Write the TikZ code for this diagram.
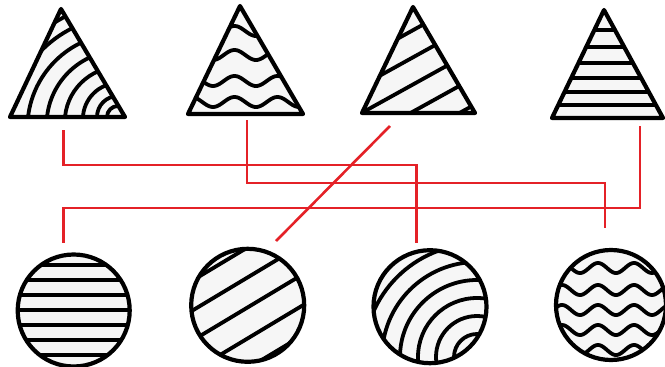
\documentclass[tikz,border=0pt]{standalone}
\definecolor{linkred}{HTML}{E42127}
\definecolor{paper}{HTML}{F6F6F6}
\begin{document}
\begin{tikzpicture}[x=1pt,y=-1pt,
  outline/.style={line width=4.2pt,line join=round},
  hatch/.style={line width=3.8pt},
  link/.style={draw=linkred,line width=2.6pt}]
\useasboundingbox (0,0) rectangle (665,367);

% ---------- triangle 1: arcs ----------
\coordinate (t1a) at (61,9); \coordinate (t1b) at (10,117); \coordinate (t1c) at (125,117);
\fill[paper] (t1a)--(t1b)--(t1c)--cycle;
\begin{scope}
  \clip (t1a)--(t1b)--(t1c)--cycle;
  \foreach \cx/\cy/\r in {118/117/11,118/117/21,119/119/36.1,120/122/55.2,121/125/74.4,122/128/94.6,124/132/116,126/136/134}
    \draw[hatch] (\cx,\cy) circle[radius=\r pt];
\end{scope}
\draw[outline] (t1a)--(t1b)--(t1c)--cycle;

% ---------- triangle 2: waves ----------
\coordinate (t2a) at (240,6); \coordinate (t2b) at (188,114); \coordinate (t2c) at (303,114);
\fill[paper] (t2a)--(t2b)--(t2c)--cycle;
\begin{scope}
  \clip (t2a)--(t2b)--(t2c)--cycle;
  \foreach \yy in {31,55,81,102}
    \draw[hatch,domain=180:310,samples=90,smooth] plot (\x,{\yy+5*cos(8.372*(\x-213))});
\end{scope}
\draw[outline] (t2a)--(t2b)--(t2c)--cycle;

% ---------- triangle 3: diagonal stripes ----------
\coordinate (t3a) at (413,7); \coordinate (t3b) at (362,113); \coordinate (t3c) at (475,113);
\fill[paper] (t3a)--(t3b)--(t3c)--cycle;
\begin{scope}
  \clip (t3a)--(t3b)--(t3c)--cycle;
  \foreach \b in {263,312,361,410,459}
    \draw[hatch] ({\b-60},146.5) -- ({\b+200},2.5);
\end{scope}
\draw[outline] (t3a)--(t3b)--(t3c)--cycle;

% ---------- triangle 4: horizontal stripes ----------
\coordinate (t4a) at (604,10); \coordinate (t4b) at (552,118); \coordinate (t4c) at (663,118);
\fill[paper] (t4a)--(t4b)--(t4c)--cycle;
\begin{scope}
  \clip (t4a)--(t4b)--(t4c)--cycle;
  \foreach \yy in {30,46.7,62.7,77.7,91.7,105} \draw[hatch] (540,\yy)--(670,\yy);
\end{scope}
\draw[outline] (t4a)--(t4b)--(t4c)--cycle;

% ---------- circle 1: horizontal stripes ----------
\coordinate (c1) at (73.7,310.5);
\fill[paper] (c1) circle[radius=56pt];
\begin{scope}
  \clip (c1) circle[radius=56pt];
  \foreach \yy in {265,280,295,310,325,340,355} \draw[hatch] (10,\yy)--(140,\yy);
\end{scope}
\draw[outline] (c1) circle[radius=56pt];

% ---------- circle 2: diagonal stripes ----------
\coordinate (c2) at (247.7,305.3);
\fill[paper] (c2) circle[radius=56.5pt];
\begin{scope}
  \clip (c2) circle[radius=56.5pt];
  \foreach \c in {246,276,306,337,367} \draw[hatch] (180,{\c+42})--(320,{\c-42});
\end{scope}
\draw[outline] (c2) circle[radius=56.5pt];

% ---------- circle 3: arcs ----------
\coordinate (c3) at (430,306.7);
\fill[paper] (c3) circle[radius=56.5pt];
\begin{scope}
  \clip (c3) circle[radius=56.5pt];
  \foreach \r in {23,41,59,77,95,113} \draw[hatch] (477,357) circle[radius=\r pt];
\end{scope}
\draw[outline] (c3) circle[radius=56.5pt];

% ---------- circle 4: waves ----------
\coordinate (c4) at (611,305);
\fill[paper] (c4) circle[radius=55pt];
\begin{scope}
  \clip (c4) circle[radius=55pt];
  \foreach \yy in {268,290,310,330,350}
    \draw[hatch,domain=550:670,samples=90,smooth] plot (\x,{\yy-5*cos(10*(\x-598))});
\end{scope}
\draw[outline] (c4) circle[radius=55pt];

% ---------- red connectors ----------
\coordinate (p1s) at (63.6,130); \coordinate (p1e) at (416.5,243);
\coordinate (p2s) at (247,120);  \coordinate (p2e) at (605,228);
\coordinate (p3s) at (640,126);  \coordinate (p3e) at (63.6,243);
\coordinate (p4s) at (390,126);  \coordinate (p4e) at (276,241);
\draw[link] (p1s) -- ++(0,35) -| (p1e);
\draw[link] (p2s) -- ++(0,63) -| (p2e);
\draw[link] (p3s) -- ++(0,82) -| (p3e);
\draw[link] (p4s) -- (p4e);
\end{tikzpicture}
\end{document}
